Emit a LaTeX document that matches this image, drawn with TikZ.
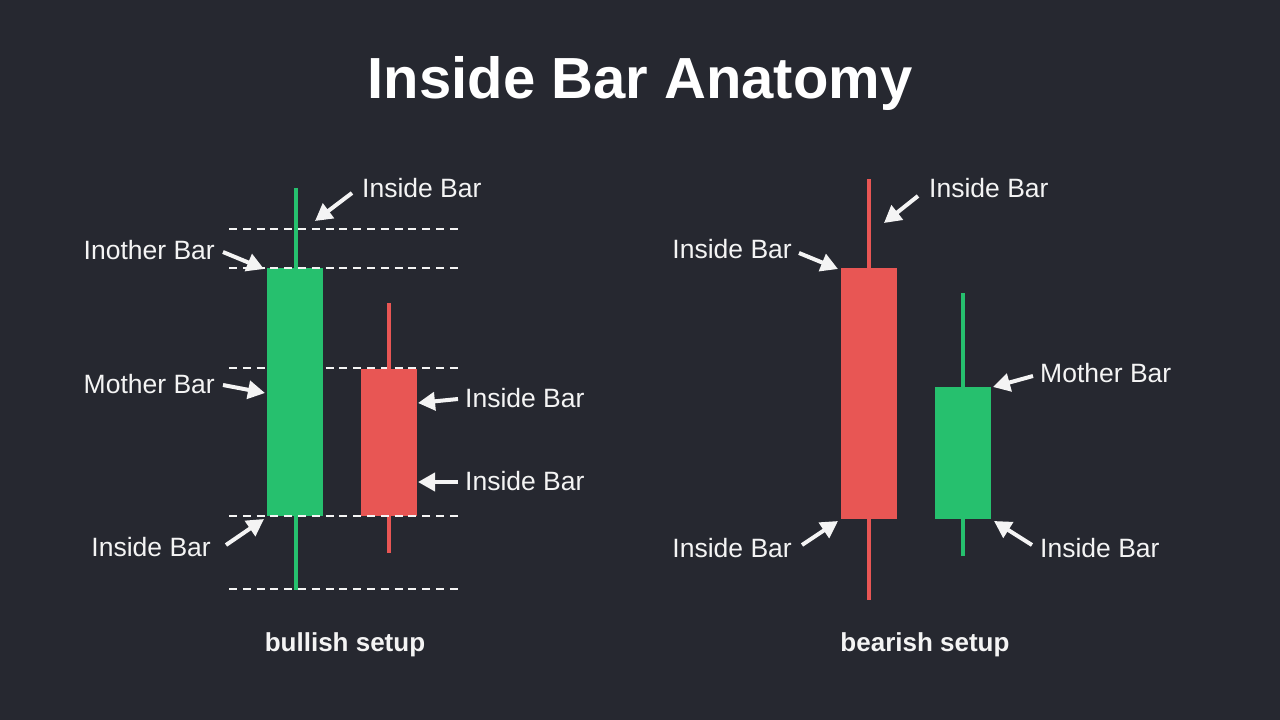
\documentclass[tikz,border=0pt]{standalone}
\usepackage{fontspec}
\setmainfont{Liberation Sans}
\usetikzlibrary{arrows.meta}
\definecolor{bg}{RGB}{38,40,48}
\definecolor{bull}{RGB}{38,192,110}
\definecolor{bear}{RGB}{232,86,84}
\definecolor{ink}{RGB}{244,244,244}
\begin{document}
\begin{tikzpicture}[x=1pt,y=-1pt,
  lbl/.style={text=ink,inner sep=0pt,font=\fontsize{26.5}{28}\selectfont},
  capt/.style={text=ink,inner sep=0pt,anchor=base,font=\bfseries\fontsize{26}{28}\selectfont},
  arr/.style={draw=ink,line width=4pt,-{Triangle[length=17pt,width=18pt]}},
  guide/.style={draw=ink,line width=2pt,dash pattern=on 8pt off 5.8pt},
  wick/.style={line width=4.5pt},
  body/.style={inner sep=0pt,outer sep=0pt,minimum width=56pt}
]
\fill[bg] (0,0) rectangle (1280,720);
\useasboundingbox (0,0) rectangle (1280,720);

% title
\node[anchor=base,text=white,inner sep=0pt,font=\bfseries\fontsize{58}{60}\selectfont] (title) at (640,98) {Inside Bar Anatomy};

% ---------------- bullish setup ----------------
\draw[guide] (229,368) -- (458,368);
\draw[bull,wick] (296,188) -- (296,590);
\node[body,fill=bull,minimum height=248pt] (gb1) at (295,392) {};
\draw[bear,wick] (389,303) -- (389,553);
\node[body,fill=bear,minimum height=147pt] (rb1) at (389,442.5) {};
\draw[guide] (229,229) -- (458,229);
\draw[guide] (229,268) -- (458,268);
\draw[guide] (229,516) -- (458,516);
\draw[guide] (229,589) -- (458,589);

\node[lbl,anchor=west] (L1) at (362,188) {Inside Bar};
\node[lbl,anchor=east] (L2) at (215,250) {Inother Bar};
\node[lbl,anchor=east] (L3) at (215,384) {Mother Bar};
\node[lbl,anchor=east] (L4) at (211,547) {Inside Bar};
\node[lbl,anchor=west] (L5) at (465,398) {Inside Bar};
\node[lbl,anchor=west] (L6) at (465,481) {Inside Bar};

\coordinate (L1t) at (352,193);  \coordinate (L1h) at (315,221);
\coordinate (L2t) at (223,252);  \coordinate (L2h) at (264,269);
\coordinate (L3t) at (223,385);  \coordinate (L3h) at (265,393);
\coordinate (L4t) at (226,545);  \coordinate (L4h) at (264,519);
\coordinate (L5t) at (458,399);  \coordinate (L5h) at (418,403);
\coordinate (L6t) at (458,482);  \coordinate (L6h) at (418,482);
\foreach \i in {1,...,6} \draw[arr] (L\i t) -- (L\i h);

\node[capt] (cap1) at (345,651) {bullish setup};

% ---------------- bearish setup ----------------
\draw[bear,wick] (869,179) -- (869,600);
\node[body,fill=bear,minimum height=251pt] (rb2) at (869,393.5) {};
\draw[bull,wick] (963,293) -- (963,556);
\node[body,fill=bull,minimum height=132pt] (gb2) at (963,453) {};

\node[lbl,anchor=west] (R1) at (929,188) {Inside Bar};
\node[lbl,anchor=east] (R2) at (792,249) {Inside Bar};
\node[lbl,anchor=west] (R3) at (1040,373) {Mother Bar};
\node[lbl,anchor=east] (R4) at (792,548) {Inside Bar};
\node[lbl,anchor=west] (R5) at (1040,548) {Inside Bar};

\coordinate (R1t) at (918,196);  \coordinate (R1h) at (884,223);
\coordinate (R2t) at (799,253);  \coordinate (R2h) at (838,269);
\coordinate (R3t) at (1033,376); \coordinate (R3h) at (993,387);
\coordinate (R4t) at (802,545);  \coordinate (R4h) at (838,521);
\coordinate (R5t) at (1032,545); \coordinate (R5h) at (994,521);
\foreach \i in {1,...,5} \draw[arr] (R\i t) -- (R\i h);

\node[capt] (cap2) at (925,651) {bearish setup};
\end{tikzpicture}
\end{document}
